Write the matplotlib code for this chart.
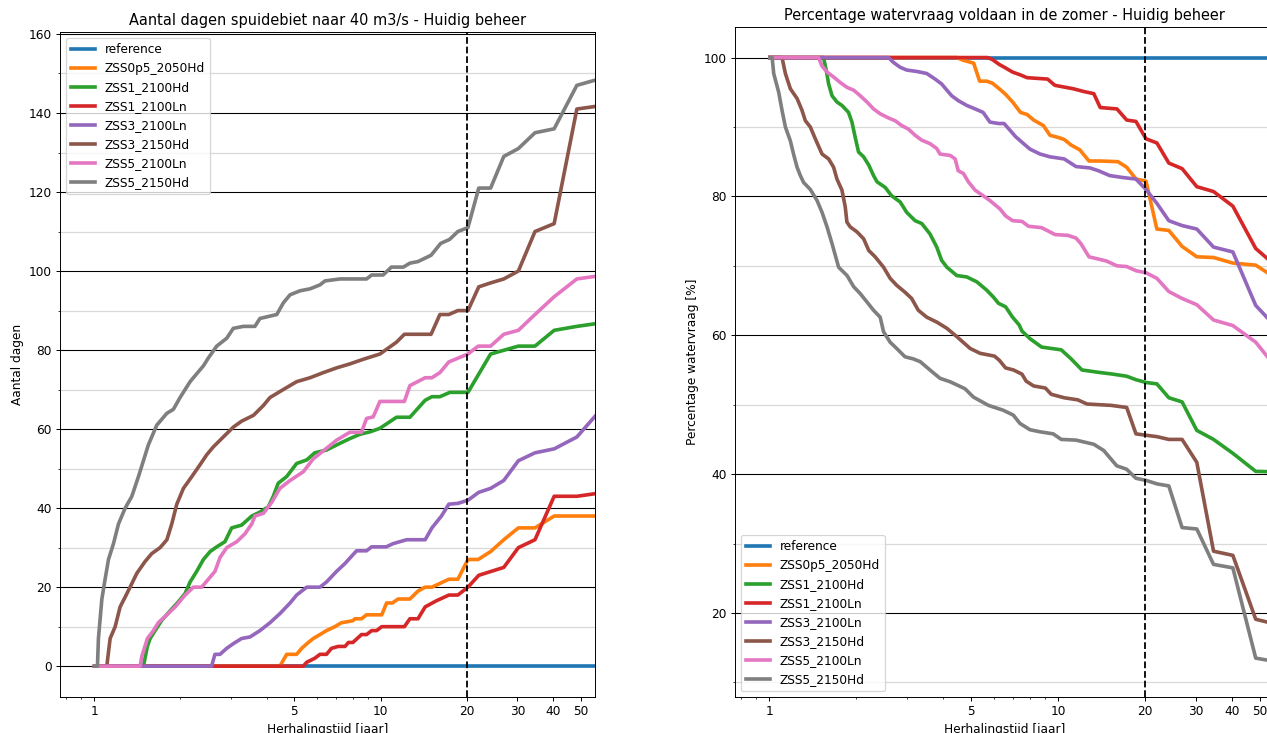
import matplotlib
matplotlib.use("Agg")
import matplotlib.pyplot as plt
from matplotlib.ticker import MultipleLocator, NullFormatter

# ----------------- Data ----------------- #
# (herhalingstijd [jaar], waarde) per scenario
scenarios = ["reference", "ZSS0p5_2050Hd", "ZSS1_2100Hd", "ZSS1_2100Ln",
             "ZSS3_2100Ln", "ZSS3_2150Hd", "ZSS5_2100Ln", "ZSS5_2150Hd"]

xticks = [1, 5, 10, 20, 30, 40, 50]

# --- aantal dagen spuidebiet naar 40 m3/s ---
dagen_reference = [(1.004, 0), (60.5, 0)]
dagen_zss0p5_2050hd = [(1.004, 0), (4.45, 0), (4.70, 3), (5.09, 3), (5.30, 4.5), (5.59, 6), (5.82, 7),
                       (6.14, 8), (6.47, 9), (6.92, 10), (7.3, 11), (8.0, 11.5), (8.13, 12), (8.57, 12),
                       (8.93, 13), (10.09, 13), (10.49, 16), (11.0, 16), (11.5, 17), (12.65, 17),
                       (13.5, 19), (14.3, 20), (15.1, 20), (17.3, 22), (18.6, 22), (20.17, 27), (21.9, 27),
                       (24.2, 29), (26.9, 32), (30.25, 35), (34.57, 35), (40.33, 38), (48.4, 38), (60.5, 38)]
dagen_zss1_2100hd = [(1.004, 0), (1.486, 0), (1.534, 5), (1.568, 7), (1.632, 9), (1.722, 11.6), (1.841, 14),
                     (1.968, 16.3), (2.077, 18.4), (2.162, 21.3), (2.28, 24), (2.406, 27), (2.539, 29),
                     (2.678, 30.2), (2.86, 31.5), (3.02, 35), (3.27, 35.7), (3.55, 38), (3.79, 39),
                     (4.05, 40.3), (4.22, 43), (4.39, 46.3), (4.70, 48), (5.09, 51.3), (5.52, 52.2),
                     (5.89, 54), (6.47, 54.7), (7.21, 56.4), (7.81, 57.6), (8.47, 58.7), (9.18, 59.3),
                     (9.94, 60.2), (11.36, 63), (12.65, 63), (14.3, 67.3), (15.1, 68.2), (16.1, 68.2),
                     (17.45, 69.3), (20.17, 69.3), (24.2, 79), (30.25, 81), (34.57, 81), (40.33, 85),
                     (48.4, 86), (60.5, 87)]
dagen_zss1_2100ln = [(1.004, 0), (5.37, 0), (5.52, 1), (5.89, 2), (6.14, 3), (6.47, 3), (6.73, 4.5),
                     (7.11, 5), (7.51, 5), (7.72, 6), (8.0, 6), (8.57, 8), (8.93, 8), (9.3, 9), (9.68, 9),
                     (10.09, 10), (12.1, 10), (12.65, 12), (13.5, 12), (14.3, 15), (15.6, 16.5), (17.3, 18),
                     (18.6, 18), (20.17, 20), (22.0, 23), (26.9, 25), (30.25, 30), (34.57, 32), (40.33, 43),
                     (48.4, 43), (60.5, 44)]
dagen_zss3_2100ln = [(1.004, 0), (2.57, 0), (2.64, 3), (2.75, 3), (2.90, 4.5), (3.06, 5.7), (3.27, 7),
                     (3.50, 7.4), (3.79, 9), (4.11, 11), (4.45, 13.3), (4.83, 16), (5.09, 18), (5.52, 20),
                     (6.14, 20), (6.47, 21.3), (7.02, 24), (7.51, 26), (8.24, 29.2), (8.93, 29.2),
                     (9.3, 30.2), (10.46, 30.2), (11.04, 31), (12.32, 32), (14.3, 32), (15.1, 35),
                     (16.3, 38), (17.3, 41), (18.6, 41.2), (20.17, 42), (22.0, 44), (24.2, 45), (26.9, 47),
                     (30.25, 52), (34.57, 54), (40.33, 55), (48.4, 58), (60.5, 66)]
dagen_zss3_2150hd = [(1.004, 0), (1.107, 0), (1.137, 7), (1.184, 10), (1.232, 15), (1.283, 17.5),
                     (1.335, 20), (1.409, 23.5), (1.506, 26.5), (1.589, 28.5), (1.699, 30), (1.794, 32),
                     (1.866, 36), (1.943, 41), (2.049, 45), (2.193, 48), (2.343, 51), (2.471, 53.5),
                     (2.606, 55.5), (2.823, 58), (3.06, 60.5), (3.27, 62), (3.60, 63.5), (3.90, 66),
                     (4.11, 68), (4.57, 70), (5.09, 72), (5.67, 73), (6.31, 74.3), (7.02, 75.5),
                     (7.81, 76.5), (8.72, 77.7), (9.94, 79), (11.36, 82), (12.1, 84), (15.0, 84),
                     (16.1, 89), (17.3, 89), (18.6, 90), (20.17, 90), (22.0, 96), (24.2, 97), (26.9, 98),
                     (30.25, 100), (34.57, 110), (40.33, 112), (48.4, 141), (60.5, 142)]
dagen_zss5_2100ln = [(1.004, 0), (1.447, 0), (1.467, 2.5), (1.534, 7), (1.611, 9), (1.675, 11),
                     (1.794, 13), (1.917, 15), (2.077, 18), (2.221, 20), (2.373, 20), (2.504, 22),
                     (2.641, 24), (2.75, 27.5), (2.903, 30), (3.146, 31.5), (3.36, 33.5), (3.55, 36),
                     (3.64, 38), (3.90, 38.7), (4.17, 41.5), (4.45, 45), (4.83, 47), (5.37, 49.2),
                     (5.82, 52.5), (6.31, 54.5), (7.02, 57.2), (7.81, 59.2), (8.57, 59.2), (8.93, 62.7),
                     (9.42, 63.1), (9.94, 67), (12.1, 67), (12.65, 71), (14.3, 73), (15.1, 73),
                     (16.1, 74.3), (17.3, 77), (20.17, 79), (21.9, 81), (24.2, 81), (26.9, 84),
                     (30.25, 85), (34.57, 89), (40.33, 93.5), (48.4, 98), (60.5, 99)]
dagen_zss5_2150hd = [(1.004, 0), (1.027, 0), (1.035, 7), (1.064, 17), (1.092, 22), (1.122, 27),
                     (1.168, 31), (1.216, 36), (1.283, 40), (1.354, 43), (1.428, 48), (1.486, 52),
                     (1.546, 56), (1.654, 61), (1.794, 64), (1.89, 65), (1.995, 68), (2.162, 72),
                     (2.28, 74), (2.406, 76), (2.504, 78), (2.678, 81), (2.903, 83), (3.06, 85.5),
                     (3.32, 86), (3.64, 86), (3.79, 88), (4.34, 89), (4.58, 92), (4.83, 94), (5.23, 95),
                     (5.67, 95.5), (6.14, 96.5), (6.39, 97.5), (7.21, 98), (8.93, 98), (9.3, 99),
                     (10.2, 99), (10.9, 101), (12.0, 101), (12.65, 102), (13.5, 102.4), (15.0, 104),
                     (16.2, 107), (17.4, 108), (18.6, 110), (20.17, 111), (22.0, 121), (24.2, 121),
                     (26.9, 129), (30.25, 131), (34.57, 135), (40.33, 136), (48.4, 147), (60.5, 149)]

# --- percentage watervraag voldaan in de zomer ---
procent_reference = [(1.004, 100), (60.5, 100)]
procent_zss0p5_2050hd = [(1.004, 100), (4.46, 100), (4.70, 99.6), (5.1, 99.2), (5.35, 96.6), (5.66, 96.6),
                         (5.93, 96.3), (6.34, 95.3), (6.58, 94.7), (6.96, 93.6), (7.41, 92.1), (7.81, 91.8),
                         (8.23, 91.0), (8.9, 90.2), (9.38, 88.8), (10.0, 88.5), (10.5, 88.2), (11.1, 87.4),
                         (11.9, 86.7), (12.8, 85.1), (14.0, 85.1), (16.13, 85.0), (17.29, 84.2),
                         (18.62, 82.5), (20.17, 82.2), (22.0, 75.3), (24.2, 75.1), (26.9, 72.8),
                         (30.25, 71.3), (34.57, 71.2), (40.33, 70.4), (48.4, 70.1), (60.5, 67.5)]
procent_zss1_2100hd = [(1.004, 100), (1.54, 100), (1.575, 98.1), (1.604, 96.2), (1.648, 94.5),
                       (1.714, 93.6), (1.784, 93.1), (1.88, 92.1), (1.932, 90.7), (1.983, 88.5),
                       (2.036, 86.4), (2.12, 85.7), (2.21, 84.5), (2.295, 83), (2.36, 82.1), (2.518, 81.3),
                       (2.65, 80.1), (2.838, 79.2), (2.99, 77.7), (3.198, 76.5), (3.37, 76.1), (3.60, 74.6),
                       (3.80, 72.7), (3.95, 70.8), (4.12, 69.8), (4.46, 68.6), (4.83, 68.4), (5.23, 67.7),
                       (5.66, 66.5), (5.97, 65.5), (6.22, 64.6), (6.58, 64.1), (6.96, 62.6), (7.33, 61.5),
                       (7.5, 60.6), (8.0, 59.5), (8.77, 58.3), (10.26, 57.9), (11.1, 56.6), (12.1, 55.0),
                       (13.6, 54.7), (15.5, 54.4), (17.29, 54.1), (18.62, 53.6), (20.17, 53.2),
                       (22.0, 53.0), (24.2, 51.0), (26.9, 50.4), (30.25, 46.3), (34.57, 45.0),
                       (40.33, 43.0), (48.4, 40.4), (60.5, 40.3)]
procent_zss1_2100ln = [(1.004, 100), (5.7, 100), (5.93, 99.7), (6.26, 99.0), (6.58, 98.5), (6.96, 97.9),
                       (7.41, 97.5), (7.81, 97.1), (9.2, 96.9), (9.75, 96.0), (11.3, 95.5), (12.3, 95.1),
                       (13.3, 94.8), (14.0, 92.8), (16.0, 92.6), (17.29, 91.0), (18.62, 90.8),
                       (20.17, 88.3), (22.0, 87.7), (24.2, 84.8), (26.9, 84.0), (30.25, 81.4),
                       (34.57, 80.7), (40.33, 78.6), (48.4, 72.5), (60.5, 69.0)]
procent_zss3_2100ln = [(1.004, 100), (2.585, 100), (2.69, 99.3), (2.838, 98.6), (2.99, 98.2), (3.24, 98.0),
                       (3.51, 97.7), (3.75, 96.9), (3.95, 96.2), (4.12, 95.3), (4.28, 94.5), (4.51, 93.8),
                       (4.83, 93.1), (5.23, 92.5), (5.50, 92.1), (5.81, 90.7), (6.22, 90.5), (6.5, 90.5),
                       (6.86, 89.4), (7.13, 88.6), (7.5, 87.8), (8.0, 86.8), (8.67, 86.1), (9.38, 85.7),
                       (10.5, 85.4), (11.54, 84.3), (12.9, 84.1), (13.8, 83.7), (15.1, 83.0), (16.9, 82.7),
                       (18.62, 82.5), (20.17, 81.0), (22.0, 79.0), (24.2, 76.5), (26.9, 75.8),
                       (30.25, 75.3), (34.57, 72.7), (40.33, 72.0), (48.4, 64.3), (60.5, 60.0)]
procent_zss3_2150hd = [(1.004, 100), (1.106, 100), (1.136, 97.7), (1.182, 95.5), (1.247, 94.1),
                       (1.297, 92.4), (1.332, 90.9), (1.386, 90), (1.442, 88.3), (1.522, 86.1),
                       (1.604, 85.4), (1.669, 84.2), (1.714, 82.5), (1.784, 80.9), (1.831, 78.5),
                       (1.856, 76.3), (1.906, 75.6), (2.01, 74.9), (2.12, 73.9), (2.21, 72.2),
                       (2.325, 71.3), (2.486, 69.8), (2.62, 68.2), (2.76, 67.2), (2.95, 66.2), (3.11, 65.3),
                       (3.28, 63.6), (3.51, 62.6), (3.80, 61.9), (4.12, 61.0), (4.46, 59.8), (4.96, 58.1),
                       (5.37, 57.4), (6.02, 57.0), (6.26, 56.4), (6.58, 55.3), (7.01, 55.0), (7.5, 54.4),
                       (7.75, 53.4), (8.23, 52.7), (9.04, 52.4), (9.47, 51.5), (10.5, 51.0), (11.7, 50.7),
                       (12.6, 50.1), (15.3, 49.9), (17.29, 49.6), (18.62, 45.8), (20.17, 45.6),
                       (22.0, 45.4), (24.2, 45.0), (26.9, 45.0), (30.25, 41.7), (34.57, 28.9),
                       (40.33, 28.3), (48.4, 19.1), (60.5, 18.1)]
procent_zss5_2100ln = [(1.004, 100), (1.48, 100), (1.52, 98.8), (1.584, 97.9), (1.669, 97.2), (1.76, 96.4),
                       (1.858, 95.7), (1.958, 95.3), (2.064, 94.5), (2.177, 93.6), (2.295, 92.6),
                       (2.42, 91.9), (2.585, 91.3), (2.727, 90.9), (2.875, 90.2), (3.03, 89.7),
                       (3.198, 88.8), (3.37, 88.1), (3.60, 87.6), (3.80, 86.9), (3.90, 86.1), (4.23, 85.9),
                       (4.40, 85.4), (4.51, 83.7), (4.70, 83.3), (4.89, 82.1), (5.16, 80.9), (5.50, 80.1),
                       (5.81, 79.4), (6.29, 78.2), (6.58, 77.2), (6.96, 76.5), (7.5, 76.4), (7.9, 75.7),
                       (8.77, 75.5), (9.77, 74.5), (10.8, 74.4), (11.54, 74.0), (12.0, 73.2), (12.8, 71.3),
                       (14.7, 70.7), (16.0, 70.0), (17.29, 69.9), (18.62, 69.3), (20.17, 69.0),
                       (22.0, 68.2), (24.2, 66.3), (26.9, 65.3), (30.25, 64.4), (34.57, 62.2),
                       (40.33, 61.4), (48.4, 59.0), (60.5, 54.0)]
procent_zss5_2150hd = [(1.004, 100), (1.022, 100), (1.035, 97.7), (1.077, 95), (1.106, 92.4), (1.136, 90),
                       (1.182, 88), (1.214, 86), (1.247, 84.2), (1.280, 83), (1.314, 82), (1.386, 81),
                       (1.463, 79.4), (1.522, 77.7), (1.584, 75.6), (1.648, 73.2), (1.737, 69.8),
                       (1.858, 68.6), (1.958, 67), (2.064, 66), (2.177, 64.8), (2.295, 63.6), (2.42, 62.6),
                       (2.486, 60.5), (2.62, 59), (2.76, 58.1), (2.95, 56.9), (3.15, 56.6), (3.33, 56.2),
                       (3.60, 55), (3.90, 53.8), (4.23, 53.3), (4.76, 52.3), (5.09, 51.1), (5.74, 49.9),
                       (6.46, 49.2), (7.0, 48.5), (7.38, 47.3), (7.99, 46.4), (8.65, 46.1), (9.62, 45.8),
                       (10.26, 45.0), (11.54, 44.9), (13.3, 44.3), (14.4, 43.4), (15.97, 41.2),
                       (17.29, 40.7), (18.62, 39.4), (20.17, 39.1), (22.0, 38.6), (24.2, 38.3),
                       (26.9, 32.3), (30.25, 32.1), (34.57, 27.0), (40.33, 26.5), (48.4, 13.5),
                       (60.5, 12.8)]

dagen = [dagen_reference, dagen_zss0p5_2050hd, dagen_zss1_2100hd, dagen_zss1_2100ln,
         dagen_zss3_2100ln, dagen_zss3_2150hd, dagen_zss5_2100ln, dagen_zss5_2150hd]
procent = [procent_reference, procent_zss0p5_2050hd, procent_zss1_2100hd, procent_zss1_2100ln,
           procent_zss3_2100ln, procent_zss3_2150hd, procent_zss5_2100ln, procent_zss5_2150hd]

# ----------------- Figure ----------------- #
DPI = 87
W, H = 1267, 733
fig = plt.figure(figsize=(W / DPI, H / DPI), dpi=DPI)

ax1 = fig.add_axes([60 / W, 36 / H, 535 / W, 665 / H])
ax2 = fig.add_axes([735 / W, 36 / H, 539 / W, 670 / H])


def style_axis(ax, ylim, major, minor):
    ax.set_xscale("log")
    ax.set_xlim(0.76, 56)
    ax.set_ylim(*ylim)
    ax.set_xticks(xticks)
    ax.set_xticklabels([str(t) for t in xticks])
    ax.xaxis.set_minor_formatter(NullFormatter())
    ax.yaxis.set_major_locator(MultipleLocator(major))
    ax.yaxis.set_minor_locator(MultipleLocator(minor))
    ax.grid(axis="y", which="major", color="black", linewidth=0.9)
    ax.grid(axis="y", which="minor", color="#d9d9d9", linewidth=1.0)
    ax.grid(axis="x", which="both", visible=False)
    ax.axvline(20, color="black", linestyle="--", linewidth=1.5, zorder=5)
    ax.set_xlabel("Herhalingstijd [jaar]")


for name, pts in zip(scenarios, dagen):
    t, v = zip(*pts)
    ax1.plot(t, v, linewidth=3, label=name)
style_axis(ax1, (-7.8, 160.5), 20, 10)
ax1.set_title("Aantal dagen spuidebiet naar 40 m3/s - Huidig beheer")
ax1.set_ylabel("Aantal dagen")
ax1.legend(loc="upper left")

for name, pts in zip(scenarios, procent):
    t, v = zip(*pts)
    ax2.plot(t, v, linewidth=3, label=name)
style_axis(ax2, (7.9, 104.4), 20, 10)
ax2.set_title("Percentage watervraag voldaan in de zomer - Huidig beheer")
ax2.set_ylabel("Percentage watervraag [%]")
ax2.legend(loc="lower left")

fig.savefig("out.png", dpi=DPI)
